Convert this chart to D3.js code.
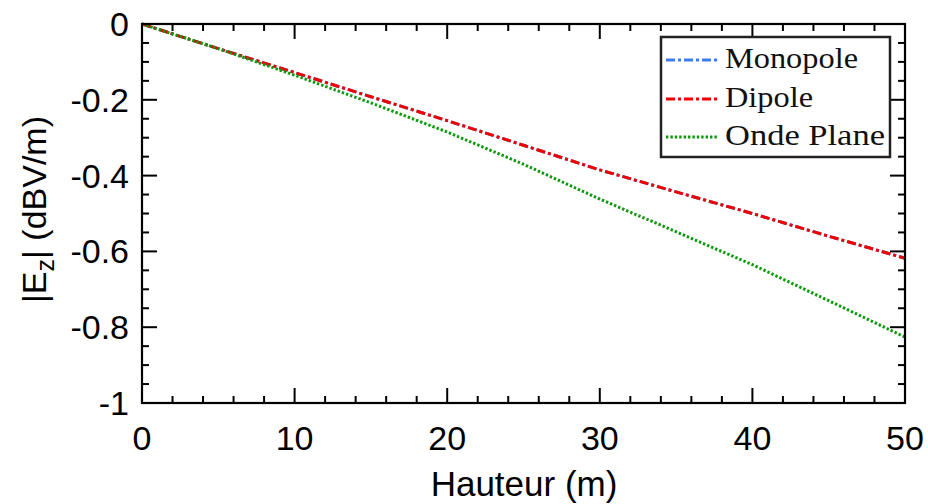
<!DOCTYPE html>
<html><head><meta charset="utf-8">
<script src="https://cdn.jsdelivr.net/npm/d3@7"></script>
<style>body{margin:0;background:#fff}svg{display:block}</style>
</head><body>
<svg id="c" width="928" height="504"></svg>
<script>
const heights = [0, 5, 10, 15, 20, 25, 30, 35, 40, 45, 50];
const monopole = [0, -0.065, -0.128, -0.192, -0.255, -0.32, -0.385, -0.443, -0.50, -0.56, -0.618];
const dipole   = [0, -0.065, -0.128, -0.192, -0.255, -0.32, -0.385, -0.443, -0.50, -0.56, -0.618];
const ondePlane= [0, -0.065, -0.135, -0.208, -0.285, -0.37, -0.462, -0.548, -0.635, -0.73, -0.826];
const xTicks = [0, 10, 20, 30, 40, 50];
const yTicks = [0, -0.2, -0.4, -0.6, -0.8, -1];
const seriesNames = ["Monopole", "Dipole", "Onde Plane"];

const svg = d3.select("#c");
const L = 142, R = 905, T = 24, B = 403;
const x = d3.scaleLinear().domain([0, 50]).range([L, R]);
const y = d3.scaleLinear().domain([-1, 0]).range([B, T]);

const series = [
  {name: seriesNames[0], data: monopole, color: "#3a7fe8", dash: "9,3,3,3", w: 3, tl: 133},
  {name: seriesNames[1], data: dipole, color: "#f00000", dash: "9,3,3,3", w: 3, tl: 88},
  {name: seriesNames[2], data: ondePlane, color: "#0a9a0a", dash: "2.4,2", w: 3, tl: 160}
];

const line = d3.line().x((d, i) => x(heights[i])).y(d => y(d));
const g = svg.append("g");
g.append("defs").append("clipPath").attr("id","clip").append("rect")
  .attr("x", L).attr("y", T-2).attr("width", R-L+2).attr("height", B-T+2);
series.forEach(s => {
  g.append("path").datum(s.data).attr("d", line).attr("fill","none")
   .attr("stroke", s.color).attr("stroke-width", s.w).attr("stroke-dasharray", s.dash)
   .attr("clip-path","url(#clip)");
});

// ticks (inward, all four sides)
const tk = svg.append("g").attr("stroke","#000").attr("stroke-width",2);
const xMinor = d3.range(0, 50.001, 2);
const yMinor = d3.range(-1, 0.0001, 0.05);
xMinor.forEach(v => {
  const major = Math.abs(v % 10) < 1e-6;
  const len = major ? 15 : 7;
  tk.append("line").attr("x1", x(v)).attr("x2", x(v)).attr("y1", B).attr("y2", B-len);
  tk.append("line").attr("x1", x(v)).attr("x2", x(v)).attr("y1", T).attr("y2", T+len);
});
yMinor.forEach(v => {
  const major = yTicks.some(t => Math.abs(t - v) < 1e-6);
  const len = major ? 15 : 7;
  tk.append("line").attr("y1", y(v)).attr("y2", y(v)).attr("x1", L).attr("x2", L+len);
  tk.append("line").attr("y1", y(v)).attr("y2", y(v)).attr("x1", R).attr("x2", R-len);
});
svg.append("rect").attr("x", L).attr("y", T).attr("width", R-L).attr("height", B-T)
  .attr("fill","none").attr("stroke","#000").attr("stroke-width",2.2);

const font = "'Liberation Sans', Arial, sans-serif";
svg.append("g").selectAll("text").data(xTicks).join("text")
  .attr("x", d => x(d)).attr("y", 450).attr("text-anchor","middle")
  .attr("font-family", font).attr("font-size", 34).attr("fill","#000").text(d => d);
svg.append("g").selectAll("text").data(yTicks).join("text")
  .attr("x", 129).attr("y", d => y(d) + 12).attr("text-anchor","end")
  .attr("font-family", font).attr("font-size", 34).attr("fill","#000")
  .text(d => d === 0 ? "0" : (d === -1 ? "-1" : String(d)));

svg.append("text").attr("x", 524).attr("y", 496).attr("text-anchor","middle")
  .attr("font-family", font).attr("font-size", 35).attr("fill","#000").text("Hauteur (m)");

const yl = svg.append("text").attr("transform", `translate(46,${(T+B)/2 - 4}) rotate(-90)`)
  .attr("text-anchor","middle").attr("font-family", font).attr("font-size", 34).attr("fill","#000");
yl.append("tspan").text("|E");
yl.append("tspan").attr("font-size", 25).attr("dy", 8).text("z");
yl.append("tspan").attr("dy", -8).text("| (dBV/m)");

// legend
const lg = svg.append("g");
lg.append("rect").attr("x", 661).attr("y", 37).attr("width", 229).attr("height", 120)
  .attr("fill","#fff").attr("stroke","#222").attr("stroke-width",2.5);
const ly = [60, 99, 137];
series.forEach((s, i) => {
  lg.append("line").attr("x1", 666).attr("x2", 718).attr("y1", ly[i]).attr("y2", ly[i])
    .attr("stroke", s.color).attr("stroke-width", s.w).attr("stroke-dasharray", s.dash);
  lg.append("text").attr("x", 725).attr("y", ly[i] + 8)
    .attr("font-family", "'Liberation Serif', 'DejaVu Serif', serif").attr("font-size", 29)
    .attr("textLength", s.tl).attr("lengthAdjust", "spacingAndGlyphs")
    .attr("fill","#111").text(s.name);
});
</script>
</body></html>
